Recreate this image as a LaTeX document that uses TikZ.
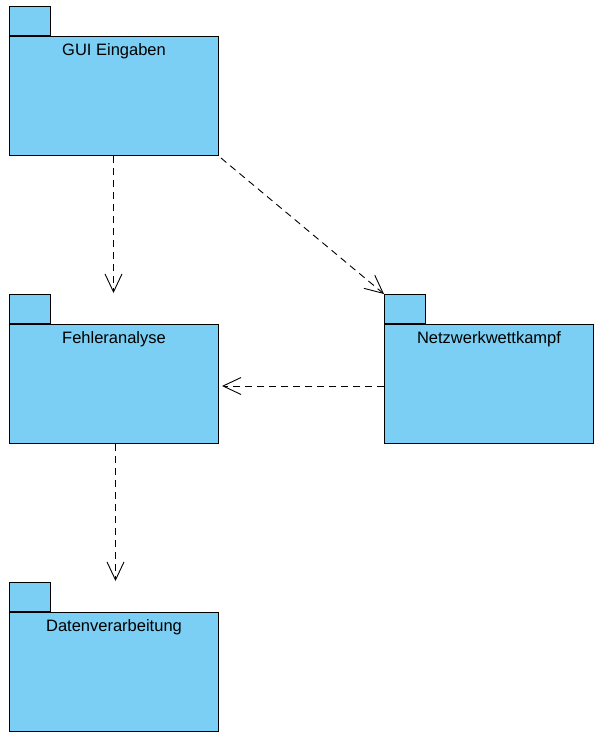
\documentclass[tikz,border=0pt]{standalone}
\usepackage{fontspec}
\setmainfont{Liberation Sans}
\usetikzlibrary{arrows.meta}
\definecolor{pkgfill}{HTML}{7BCFF4}
\begin{document}
\begin{tikzpicture}[x=1pt,y=-1pt,
  pkgbody/.style={draw=black, line width=1pt, fill=pkgfill, rectangle,
    minimum width=209pt, minimum height=119pt, inner sep=0pt, anchor=north west},
  pkgtab/.style={draw=black, line width=1pt, fill=pkgfill, rectangle,
    minimum width=41pt, minimum height=29pt, inner sep=0pt, anchor=south west},
  pkgname/.style={anchor=north, inner sep=0pt, yshift=-7pt, font=\fontsize{16.5}{19}\selectfont},
  dep/.style={draw=black, line width=0.9pt, dash pattern=on 7pt off 5pt,
    -{Straight Barb[length=18pt,width=17pt,line width=0.9pt]}}]
  \useasboundingbox[fill=white] (0,0) rectangle (598,739);

  % packages: body with name, tab on the top-left corner
  \node[pkgbody, label={[pkgname]north:GUI Eingaben}] (gui) at (9,36) {};
  \node[pkgtab] (guitab) at (gui.north west) {};

  \node[pkgbody, label={[pkgname]north:Fehleranalyse}] (fehler) at (9,324) {};
  \node[pkgtab] (fehlertab) at (fehler.north west) {};

  \node[pkgbody, label={[pkgname]north:Netzwerkwettkampf}] (netz) at (384,324) {};
  \node[pkgtab] (netztab) at (netz.north west) {};

  \node[pkgbody, label={[pkgname]north:Datenverarbeitung}] (daten) at (9,612) {};
  \node[pkgtab] (datentab) at (daten.north west) {};

  % dependencies
  \draw[dep] ([xshift=-0.5pt]gui.south) -- ([xshift=-0.5pt,yshift=1pt]gui.south |- fehlertab.north);
  \draw[dep] ([xshift=2pt,yshift=-2pt]gui.south east) -- (netztab.north west);
  \draw[dep] ([yshift=-2pt]netz.west) -- ([xshift=3pt,yshift=-2pt]fehler.east);
  \draw[dep] ([xshift=1.5pt]fehler.south) -- ([xshift=1.5pt,yshift=1pt]fehler.south |- datentab.north);
\end{tikzpicture}
\end{document}
